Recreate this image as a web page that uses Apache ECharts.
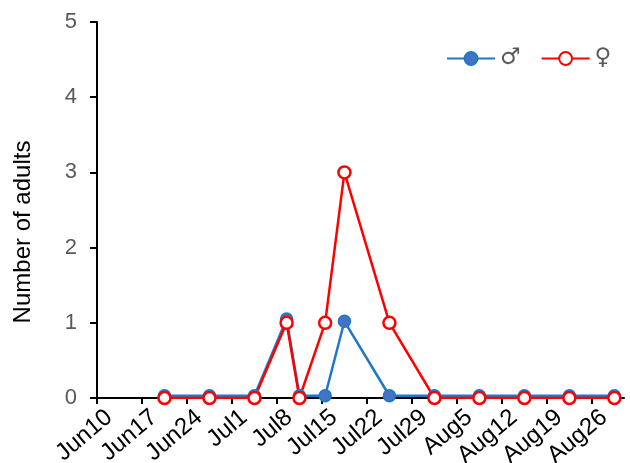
<!DOCTYPE html>
<html>
<head>
<meta charset="utf-8">
<script src="https://cdn.jsdelivr.net/npm/echarts@6/dist/echarts.min.js"></script>
<style>html,body{margin:0;padding:0;background:#fff}#c{width:630px;height:463px}</style>
</head>
<body>
<div id="c"></div>
<script>
// Sampling dates
const dates = ['Jun20','Jun27','Jul4','Jul9','Jul11','Jul15','Jul18','Jul25','Aug1','Aug8','Aug15','Aug22','Aug29'];
// Number of adults
const male   = [0.03,0.03,0.03,1.05,0.03,0.03,1.02,0.03,0.03,0.03,0.03,0.03,0.03];
const female = [0,0,0,1,0,1,3,1,0,0,0,0,0];
// X tick labels
const tickDates = ['Jun10','Jun17','Jun24','Jul1','Jul8','Jul15','Jul22','Jul29','Aug5','Aug12','Aug19','Aug26'];
const seriesNames = ['\u2642','\u2640'];

const monthStart = {Jan:0,Feb:31,Mar:59,Apr:90,May:120,Jun:151,Jul:181,Aug:212,Sep:243,Oct:273,Nov:304,Dec:334};
function doy(s){ return monthStart[s.slice(0,3)] + parseInt(s.slice(3),10); }
const dayToLabel = {};
tickDates.forEach(t => { dayToLabel[doy(t)] = t; });
const tickDays = tickDates.map(doy);

const pairs = (vals) => dates.map((d,i) => [doy(d) + 0.5, vals[i]]);

const font = 'Liberation Sans, Arial, sans-serif';
const chart = echarts.init(document.getElementById('c'));
chart.setOption({
  animation: false,
  grid: { left: 97, right: 6, top: 22, bottom: 65, containLabel: false, outerBoundsMode: 'none' },
  legend: {
    left: 441, top: 42, itemWidth: 48, itemHeight: 16, itemGap: 20,
    data: seriesNames,
    textStyle: { fontSize: 23, color: '#595959', fontFamily: 'DejaVu Sans, sans-serif' }
  },
  xAxis: {
    type: 'value', min: tickDays[0], max: tickDays[0] + 82, interval: 7,
    splitLine: { show: false },
    axisLine: { lineStyle: { color: '#000', width: 2 } },
    axisTick: { show: true, length: 6, lineStyle: { color: '#000', width: 2 }, customValues: tickDays },
    axisLabel: {
      customValues: tickDays,
      formatter: v => dayToLabel[Math.round(v)] || '',
      rotate: 40, align: 'right', verticalAlign: 'top', margin: 11,
      padding: [0, -6, 0, 0],
      fontSize: 24, color: '#000', fontFamily: font
    }
  },
  yAxis: {
    type: 'value', min: 0, max: 5, interval: 1,
    name: 'Number of adults', nameLocation: 'middle', nameGap: 62,
    nameTextStyle: { fontSize: 24, color: '#000', fontFamily: font, padding: [0, 44, 0, 0] },
    splitLine: { show: false },
    axisLine: { show: true, lineStyle: { color: '#000', width: 2 } },
    axisTick: { show: true, length: 7, lineStyle: { color: '#000', width: 2 } },
    axisLabel: { fontSize: 22, color: '#595959', margin: 20, fontFamily: font }
  },
  series: [
    {
      name: seriesNames[0], type: 'line', data: pairs(male),
      symbol: 'circle', symbolSize: 12,
      lineStyle: { color: '#1F77C8', width: 2.5 },
      itemStyle: { color: '#4472C4', borderColor: '#1F77C8', borderWidth: 1.5 }
    },
    {
      name: seriesNames[1], type: 'line', data: pairs(female),
      symbol: 'circle', symbolSize: 12,
      lineStyle: { color: '#FF0000', width: 2.5 },
      itemStyle: { color: '#FFFFFF', borderColor: '#FF0000', borderWidth: 2.5 }
    }
  ]
});
</script>
</body>
</html>
